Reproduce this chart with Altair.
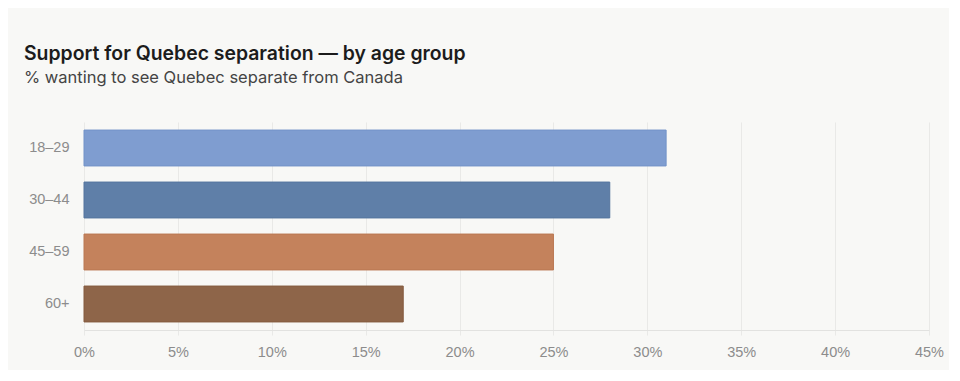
import altair as alt
import pandas as pd

groups = ["18–29", "30–44", "45–59", "60+"]
values = [31, 28, 25, 17]
fills = ["#7f9dd0", "#5f7fa8", "#c4825c", "#8e6549"]
strokes = ["#7393c8", "#55759e", "#ba7852", "#845b3f"]
ticks = [0, 5, 10, 15, 20, 25, 30, 35, 40, 45]

df = pd.DataFrame({"group": groups, "value": values})

chart = (
    alt.Chart(df)
    .mark_bar(strokeWidth=1, opacity=1, cornerRadius=0)
    .encode(
        x=alt.X(
            "value:Q",
            scale=alt.Scale(domain=[0, 45], nice=False),
            axis=alt.Axis(
                values=ticks,
                labelExpr="datum.value + '%'",
                title=None,
                grid=True,
                gridColor="#e9e9e7",
                gridWidth=1,
                domainColor="#e2e2e0",
                tickColor="#e9e9e7",
                tickSize=5,
                labelPadding=10,
                labelFlush=False,
                labelFont="Liberation Sans",
                labelFontSize=14.5,
                labelColor="#8c8c8c",
            ),
        ),
        y=alt.Y(
            "group:N",
            sort=groups,
            scale=alt.Scale(paddingInner=0.31, paddingOuter=0.155),
            axis=alt.Axis(
                title=None,
                ticks=False,
                domain=False,
                grid=False,
                labelPadding=15,
                labelFont="Liberation Sans",
                labelFontSize=14.5,
                labelColor="#8c8c8c",
            ),
        ),
        color=alt.Color("group:N", scale=alt.Scale(domain=groups, range=fills), legend=None),
        stroke=alt.Stroke("group:N", scale=alt.Scale(domain=groups, range=strokes), legend=None),
    )
    .properties(
        width=845,
        height=208,
        background="#f8f8f6",
        padding={"left": 76, "top": 114, "right": 20, "bottom": 40},
        autosize=alt.AutoSizeParams(type="none"),
        title=alt.TitleParams(
            text="Support for Quebec separation — by age group",
            subtitle="% wanting to see Quebec separate from Canada",
            anchor="start",
            frame="group",
            dx=-60,
            offset=35,
            font="Inter",
            fontSize=19.4,
            fontWeight=600,
            color="#1c1c1c",
            subtitleFont="Inter",
            subtitleFontSize=16.5,
            subtitleColor="#444444",
            subtitlePadding=5,
        ),
    )
    .configure_view(stroke=None)
)

chart.save("out.html", embed_options={"renderer": "svg", "actions": False})
